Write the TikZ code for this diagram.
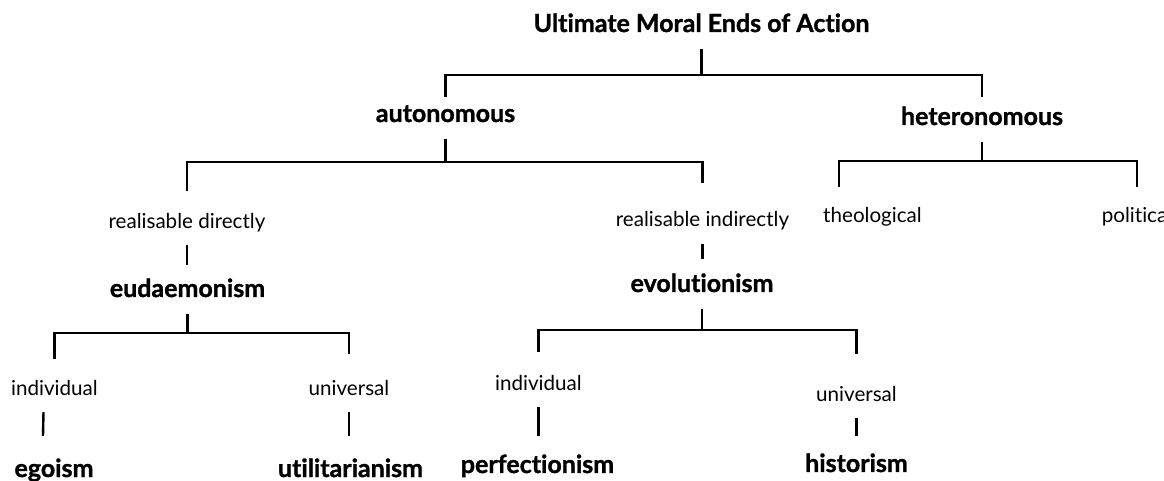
\documentclass[tikz,border=0pt]{standalone}
\usepackage{fontspec}
\setmainfont{Lato}[Ligatures=NoCommon, BoldFeatures={FakeBold=1.2}]

\begin{document}
\begin{tikzpicture}[x=0.5pt, y=-0.5pt, line width=1.2pt,
  every node/.style={inner sep=0pt, anchor=base, text depth=8pt},
  term/.style={font=\fontsize{12.5}{14}\selectfont\bfseries},
  mode/.style={font=\fontsize{10.3}{12}\selectfont}]
\useasboundingbox (0,0) rectangle (1164,481);
% ends and doctrines
\foreach \nm/\txt/\xx/\yy/\hh in {%
  ume/{Ultimate Moral Ends of Action}/701.5/32/18,%
  aut/autonomous/445.5/122/12,%
  het/heteronomous/982/125/13.5,%
  eud/eudaemonism/187.5/297/15.5,%
  evo/evolutionism/702/292/16,%
  ego/egoism/54/477/20,%
  uti/utilitarianism/350.5/477/20,%
  per/perfectionism/537.5/473/18,%
  his/historism/856.5/472/17.5%
} {
  \node[term, text height=\hh pt] (\nm) at (\xx,\yy) {\txt};
}
% ways of realising
\foreach \nm/\txt/\xx/\yy/\hh in {%
  rdir/{realisable directly}/187/228/18,%
  rind/{realisable indirectly}/702.5/227/21.5,%
  theo/theological/872.5/223/17.5,%
  pol/political/1137/223/17.5,%
  ind1/individual/54.5/395/17.5,%
  uni1/universal/349/395/20,%
  ind2/individual/538.5/390/18.5,%
  uni2/universal/856.5/401/23%
} {
  \node[mode, text height=\hh pt] (\nm) at (\xx,\yy) {\txt};
}

% forks
\coordinate (f1) at (0,75);
\coordinate (f2) at (0,162);
\coordinate (f3) at (0,161);
\coordinate (f4) at (0,333);
\coordinate (f5) at (0,330);
\draw (ume) -- (ume |- f1);
\draw (aut) |- (ume |- f1) -| (het);
\draw (aut) -- (aut |- f2);
\draw (rdir) |- (aut |- f2) -| (rind);
\draw (het) -- (het |- f3);
\draw ([xshift=8.5pt]theo.north west) |- (het |- f3) -| (pol);
\draw (rdir) -- (rdir |- eud.north);
\draw (rind) -- (rind |- evo.north);
\draw (eud) -- (eud |- f4);
\draw (ind1) |- (eud |- f4) -| (uni1);
\draw (evo) -- (evo |- f5);
\draw (ind2) |- (evo |- f5) -| (uni2);
\draw ([xshift=-5.5pt]ind1.south) -- ([xshift=-5.5pt]ego.north);
\draw (uni1) -- (uni1 |- uti.north);
\draw (ind2) -- (ind2 |- per.north);
\draw (uni2) -- (uni2 |- his.north);
\end{tikzpicture}
\end{document}
